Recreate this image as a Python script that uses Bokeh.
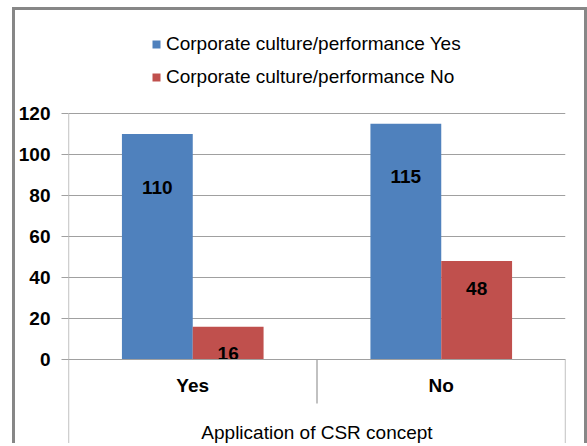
import numpy as np
from bokeh.plotting import figure
from bokeh.models import (ColumnDataSource, FactorRange, Range1d, FixedTicker,
                          Legend, LegendItem)
from bokeh.transform import dodge
from bokeh.core.properties import value
from bokeh.embed import file_html
from bokeh.resources import INLINE

# ---- data ----
categories = ["Yes", "No"]
series_names = ["Corporate culture/performance Yes", "Corporate culture/performance No"]
values_yes = [110, 115]
values_no = [16, 48]
y_ticks = [0, 20, 40, 60, 80, 100, 120]
x_title = "Application of CSR concept"

# ---- style / layout ----
FONT = "Liberation Sans"
BLUE = "#4F81BD"
RED = "#C0504D"
GRID = "#A0A0A0"
FS = "19px"
W = 0.285
OFF = W / 2

FIG_W, FIG_H = 575, 436
FRAME_LEFT, FRAME_RIGHT = 50, 25
PX_PER_UNIT = 246 / 120.0          # vertical scale of the value axis
TOP_SPACE_PX = 103                  # space above the 120 line (legend area)
BOTTOM_SPACE_PX = 87                # category-label box below the 0 line
y_end = y_ticks[-1] + TOP_SPACE_PX / PX_PER_UNIT
y_start = -BOTTOM_SPACE_PX / PX_PER_UNIT
SEP_DEPTH = 44 / PX_PER_UNIT

src = ColumnDataSource(dict(
    cat=categories,
    yes=values_yes,
    no=values_no,
    yes_txt=[str(v) for v in values_yes],
    no_txt=[str(v) for v in values_no],
))

p = figure(
    x_range=FactorRange(factors=categories, range_padding=0, factor_padding=0),
    y_range=Range1d(y_start, y_end),
    width=FIG_W, height=FIG_H,
    min_border_left=FRAME_LEFT, min_border_right=FRAME_RIGHT,
    min_border_top=0, min_border_bottom=0,
    output_backend="svg", toolbar_location=None,
)
p.styles = {
    "overflow": "hidden",
    "margin-left": "12px",
    "margin-top": "7px",
    "border-top": "3px solid #878787",
    "border-left": "3px solid #878787",
    "border-right": "3px solid #878787",
}

# category box lines: left edge (value axis line), separators, right edge
n = len(categories)
bounds = list(range(n + 1))
box = ColumnDataSource(dict(
    x=bounds,
    y_top=[y_ticks[-1] if b == 0 else 0 for b in bounds],
    y_bot=[-SEP_DEPTH if 0 < b < n else y_start for b in bounds],
))
p.segment(x0="x", y0="y_top", x1="x", y1="y_bot", source=box,
          line_color=GRID, line_width=1.3)

r_yes = p.vbar(x=dodge("cat", -OFF, range=p.x_range), top="yes", width=W,
               source=src, fill_color=BLUE, line_color=None)
r_no = p.vbar(x=dodge("cat", OFF, range=p.x_range), top="no", width=W,
              source=src, fill_color=RED, line_color=None)

p.text(x=dodge("cat", -OFF, range=p.x_range), y="yes", text="yes_txt", source=src,
       text_align="center", text_baseline="middle", y_offset=53,
       text_font=value(FONT), text_font_size=FS, text_font_style="bold",
       text_color="black")
p.text(x=dodge("cat", OFF, range=p.x_range), y="no", text="no_txt", source=src,
       text_align="center", text_baseline="middle", y_offset=27,
       text_font=value(FONT), text_font_size=FS, text_font_style="bold",
       text_color="black")

legend = Legend(
    items=[LegendItem(label=series_names[0], renderers=[r_yes]),
           LegendItem(label=series_names[1], renderers=[r_no])],
    location=(83, 358), orientation="vertical",
    border_line_color=None, background_fill_alpha=0,
    glyph_width=10, glyph_height=10, label_standoff=5,
    spacing=11, padding=5, margin=0, label_height=22,
    label_text_font=FONT, label_text_font_size=FS, label_text_color="black",
)
p.add_layout(legend, "center")

# value axis
p.yaxis.ticker = FixedTicker(ticks=y_ticks)
p.yaxis.axis_line_color = None
p.yaxis.major_tick_line_color = GRID
p.yaxis.major_tick_in = 0
p.yaxis.major_tick_out = 7
p.yaxis.minor_tick_line_color = None
p.yaxis.major_label_standoff = 11
p.yaxis.major_label_text_font = FONT
p.yaxis.major_label_text_font_size = FS
p.yaxis.major_label_text_font_style = "bold"
p.yaxis.major_label_text_color = "black"

p.ygrid.ticker = FixedTicker(ticks=y_ticks)
p.ygrid.grid_line_color = GRID
p.xgrid.grid_line_color = None
p.outline_line_color = None

# category axis, sitting on the 0 line
p.xaxis.fixed_location = 0
p.xaxis.axis_line_color = GRID
p.xaxis.major_tick_line_color = None
p.xaxis.major_tick_out = 0
p.xaxis.major_tick_in = 0
p.xaxis.minor_tick_line_color = None
p.xaxis.major_label_standoff = 15
p.xaxis.major_label_text_font = FONT
p.xaxis.major_label_text_font_size = FS
p.xaxis.major_label_text_font_style = "bold"
p.xaxis.major_label_text_color = "black"
p.xaxis.axis_label = x_title
p.xaxis.axis_label_standoff = 23
p.xaxis.axis_label_text_font = FONT
p.xaxis.axis_label_text_font_size = FS
p.xaxis.axis_label_text_font_style = "normal"
p.xaxis.axis_label_text_color = "black"

open("out.html", "w").write(file_html(p, INLINE))
